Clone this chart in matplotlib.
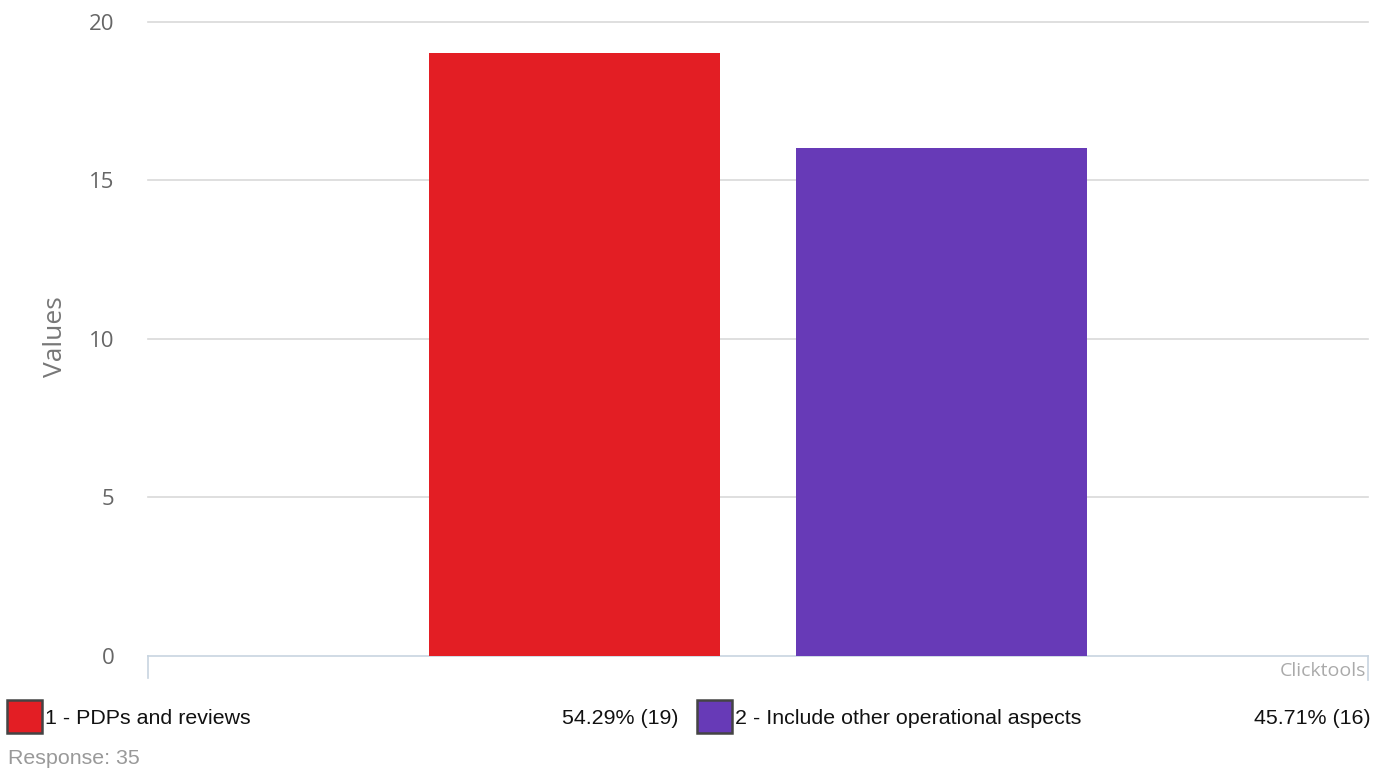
import matplotlib
matplotlib.use("Agg")
import matplotlib.pyplot as plt
from matplotlib.patches import Rectangle

categories = ["1 - PDPs and reviews", "2 - Include other operational aspects"]
values = [19, 16]
percent_labels = ["54.29% (19)", "45.71% (16)"]
colors = ["#E31E24", "#673AB7"]
yticks = [0, 5, 10, 15, 20]
response_total = 35

W, H = 1388, 770
fig = plt.figure(figsize=(W / 100, H / 100), dpi=100)
top_px, base_px = 21.5, 656
ax = fig.add_axes([148 / W, 1 - base_px / H, (1368 - 148) / W, (base_px - top_px) / H])
ax.set_clip_on(False)

x = list(range(len(categories)))
ax.bar(x, values, width=0.793, color=colors, zorder=3)
ax.set_xlim(-1.162, 2.162)
ax.set_ylim(0, 20)
ax.set_yticks(yticks)
ax.set_yticklabels([str(t) for t in yticks], fontsize=16, color="#666666", family="Open Sans")
ax.tick_params(axis="y", length=0, pad=24)
ax.set_xticks([])
for t in yticks[1:]:
    ax.axhline(t, color="#d9d9d9", lw=1.2, zorder=1, clip_on=False)
for s in ["top", "right", "left"]:
    ax.spines[s].set_visible(False)
ax.spines["bottom"].set_color("#c8d4e0")
ax.spines["bottom"].set_linewidth(1.2)
fig.add_artist(plt.Line2D([148 / W, 148 / W], [1 - 656 / H, 1 - 678 / H], color="#c8d4e0", lw=1.2))
fig.add_artist(plt.Line2D([1368 / W, 1368 / W], [1 - 656 / H, 1 - 680 / H], color="#c8d4e0", lw=1.2))

fig.text(55 / W, 1 - 337 / H, "Values", rotation=90, ha="center", va="center",
         fontsize=19, color="#777777", family="Open Sans")

fig.text(1366 / W, 1 - 671 / H, "Clicktools", ha="right", va="center", fontsize=14,
         color="#aaaaaa", family="Open Sans")

# legend row
legend_y = 1 - 718 / H
sq = [(7, categories[0], 679), (697, categories[1], 1371)]
for i, (lx, label, px) in enumerate(sq):
    fig.add_artist(Rectangle((lx / W, 1 - 733 / H), 35 / W, 33 / H, facecolor=colors[i],
                             edgecolor="#444444", lw=1.8, transform=fig.transFigure))
    fig.text((lx + 38) / W, legend_y, label, ha="left", va="center", fontsize=15.4,
             color="#111111", family="Liberation Sans")
    fig.text(px / W, legend_y, percent_labels[i], ha="right", va="center", fontsize=15.4,
             color="#111111", family="Liberation Sans")

fig.text(8 / W, 1 - 758 / H, f"Response: {response_total}", ha="left", va="center",
         fontsize=15.4, color="#999999", family="Liberation Sans")

fig.savefig("out.png", dpi=100)
